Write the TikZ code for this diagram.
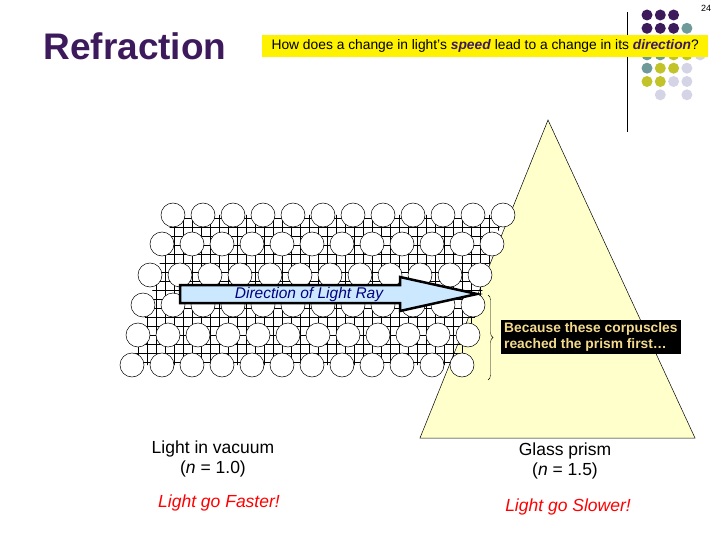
\documentclass[tikz,border=0pt]{standalone}
\usepackage{fontspec}
\setmainfont{Liberation Sans}
\usetikzlibrary{decorations.pathreplacing}
\definecolor{dpurple}{HTML}{3D1A5C}
\definecolor{dteal}{HTML}{6E9A9A}
\definecolor{dolive}{HTML}{C2C229}
\definecolor{dlav}{HTML}{D4D4E6}
\definecolor{prism}{HTML}{FFFFCC}
\definecolor{arrowblue}{HTML}{CCE8FF}
\definecolor{boxtext}{HTML}{F2D98C}
\begin{document}
\begin{tikzpicture}[x=1pt,y=-1pt,
  dot/.style={circle,inner sep=0pt,minimum size=11pt},
  ball/.style={circle,draw,fill=white,minimum size=24pt,inner sep=0pt,line width=0.5pt},
  lbl/.style={font=\fontsize{17.5}{20}\selectfont,align=center}]
\useasboundingbox (0,0) rectangle (720,540);
% decoration
\draw[line width=0.8pt] (627,12) -- (627,132);
\foreach \c/\col/\row in {dpurple/1/1,dpurple/2/1,dpurple/3/1,
  dpurple/1/2,dpurple/2/2,dpurple/3/2,dteal/4/2,
  dpurple/1/3,dteal/2/3,dteal/3/3,dolive/4/3,
  dteal/1/4,dteal/2/4,dolive/3/4,dolive/4/4,dlav/5/4,
  dteal/1/5,dolive/2/5,dolive/3/5,dlav/4/5,
  dolive/1/6,dolive/2/6,dlav/3/6,dlav/4/6,
  dlav/2/7,dlav/4/7}
  \node[dot,fill=\c] (d\col\row) at ({647+13.3*(\col-1)},{15+13.3*(\row-1)}) {};
\node[font=\fontsize{9}{10}\selectfont] (pg) at (706,8) {24};
% title
\node[font=\fontsize{37}{40}\selectfont\bfseries,text=dpurple,anchor=west] (title) at (40,46) {Refraction};
\node[fill=yellow,anchor=west,minimum width=446pt,minimum height=22pt,inner sep=0pt,font=\fontsize{13.8}{15}\selectfont] (q) at (262,46)
 {How does a change in light's \textcolor{dpurple}{\textbf{\textit{speed}}} lead to a change in its \textcolor{dpurple}{\textbf{\textit{direction}}}?};
% prism
\draw[fill=prism,line width=0.5pt] (548,120) -- (695,438) -- (420,438) -- cycle;
\coordinate (apex) at (548,120);
% grid
\begin{scope}
\clip (173,215) -- (503,215) -- (462,365) -- (132,365) -- cycle;
\foreach \x in {120,129,...,520} \draw[line width=0.6pt] (\x,200) -- (\x,380);
\foreach \y in {200,209,...,380} \draw[line width=0.6pt] (120,\y) -- (520,\y);
\end{scope}
\foreach \r/\xs/\yy in {1/173/215,2/162/244,3/150/275,4/143/305,5/138/335,6/132/365}
  \foreach \i in {0,...,11}
    \node[ball] (b\r-\i) at ({\xs+30*\i},\yy) {};
% arrow
\draw[fill=arrowblue,line width=2.5pt,line join=miter]
  (180,285) -- (400,285) -- (400,277) -- (477,294) -- (400,311) -- (400,303) -- (180,303) -- cycle;
\node[font=\fontsize{15.5}{17}\selectfont\itshape,text=blue!50!black] (arrtxt) at (309,294) {Direction of Light Ray};
% brace
\coordinate (bt) at (488,295);
\coordinate (bb) at (488,380);
\draw[decorate,decoration={brace,amplitude=5pt}] (bt) -- (bb);
\node[fill=black,text=boxtext,anchor=west,align=left,inner sep=3pt,font=\fontsize{13.8}{16}\selectfont\bfseries] (box) at (501,337)
 {Because these corpuscles\\reached the prism first\dots};
% labels
\node[lbl] (vac) at (213,459) {Light in vacuum\\(\textit{n} = 1.0)};
\node[lbl,text=red,font=\fontsize{17.5}{20}\selectfont\itshape] (fast) at (219,503) {Light go Faster!};
\node[lbl] (glass) at (565,461) {Glass prism\\(\textit{n} = 1.5)};
\node[lbl,text=red,font=\fontsize{17.5}{20}\selectfont\itshape] (slow) at (568,507) {Light go Slower!};
\end{tikzpicture}
\end{document}
